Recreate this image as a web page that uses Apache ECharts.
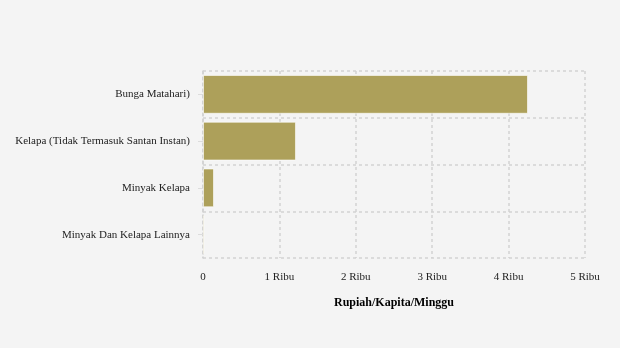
<!DOCTYPE html>
<html>
<head>
<meta charset="utf-8">
<script src="https://cdn.jsdelivr.net/npm/echarts@6/dist/echarts.min.js"></script>
<style>
  html, body { margin: 0; padding: 0; background: #f4f4f4; }
  #main { width: 620px; height: 348px; }
</style>
</head>
<body>
<div id="main"></div>
<script>
// categories from top to bottom
var categories = ['Bunga Matahari)', 'Kelapa (Tidak Termasuk Santan Instan)', 'Minyak Kelapa', 'Minyak Dan Kelapa Lainnya'];
var values = [4254, 1217, 144, 20];

var font = '"Liberation Serif", "DejaVu Serif", serif';
var gridLine = { type: [3, 3], color: '#d2d2d2', width: 1.5 };

var chart = echarts.init(document.getElementById('main'));

var option = {
  backgroundColor: '#f4f4f4',
  textStyle: { fontFamily: font },
  grid: { left: 203, right: 35, top: 71, bottom: 90, containLabel: false },
  xAxis: {
    type: 'value',
    min: 0,
    max: 5000,
    interval: 1000,
    name: 'Rupiah/Kapita/Minggu',
    nameLocation: 'middle',
    nameGap: 39,
    nameTextStyle: { fontFamily: font, fontWeight: 'bold', fontSize: 12, color: '#000' },
    axisLine: { show: false },
    axisTick: { show: false },
    axisLabel: {
      fontFamily: font, fontSize: 11, color: '#222', margin: 14,
      formatter: function (v) { return v === 0 ? '0' : (v / 1000) + ' Ribu'; }
    },
    splitLine: { show: true, lineStyle: gridLine }
  },
  yAxis: {
    type: 'category',
    inverse: true,
    data: categories,
    axisLine: { show: true, lineStyle: gridLine },
    axisTick: { show: true, alignWithLabel: true, length: 5, lineStyle: { color: '#dcdcdc' } },
    axisLabel: { fontFamily: font, fontSize: 11, color: '#222', margin: 13, padding: [3, 0, 0, 0] },
    splitLine: { show: true, lineStyle: gridLine }
  },
  series: [{
    type: 'bar',
    data: values,
    barCategoryGap: '17%',
    itemStyle: { color: '#ada05a', borderColor: 'rgba(255,255,255,0.6)', borderWidth: 1 }
  }]
};

chart.setOption(option);
</script>
</body>
</html>
